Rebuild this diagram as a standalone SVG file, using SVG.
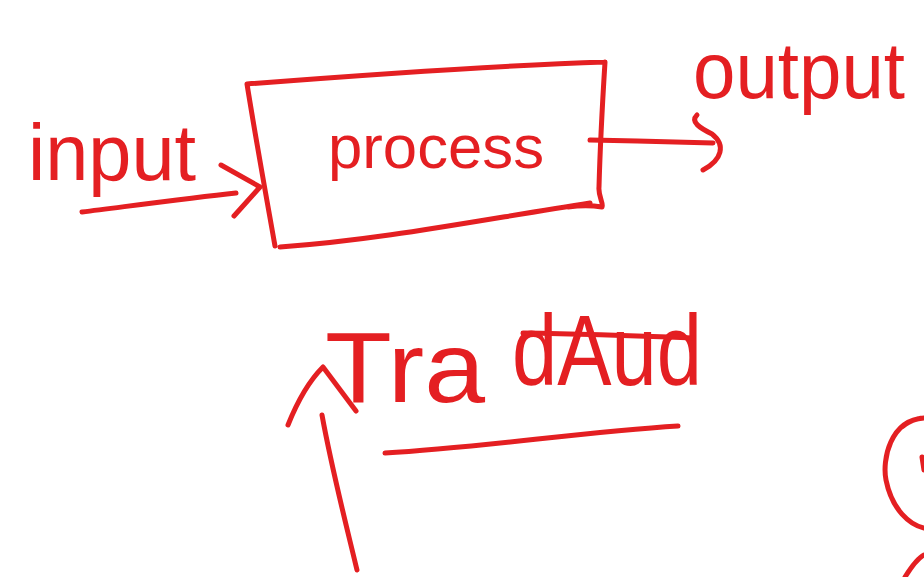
<svg xmlns="http://www.w3.org/2000/svg" width="924" height="577" viewBox="0 0 924 577">
<style>
.s{fill:none;stroke:#e41f22;stroke-width:5;stroke-linecap:round;stroke-linejoin:round}
.t{fill:#e41f22;font-family:"Liberation Sans","DejaVu Sans",sans-serif}
</style>
<rect width="924" height="577" fill="#fff"/>
<g id="input">
<text class="t" x="28" y="180" font-size="80" textLength="168" lengthAdjust="spacingAndGlyphs">input</text>
</g>
<g id="process">
<path class="s" d="M247,84 C350,76 480,66 605,62 M605,62 C602,110 600,150 599,187 C598,196 604,204 602,207 C590,205 575,206 568,207 M590,203 C480,220 380,240 280,247 M247,84 C256,140 266,195 275,246"/>
<text class="t" x="328" y="168" font-size="62" textLength="216" lengthAdjust="spacingAndGlyphs">process</text>
</g>
<g id="output">
<text class="t" x="693" y="98" font-size="80" textLength="212" lengthAdjust="spacingAndGlyphs">output</text>
</g>
<g id="trad">
<text class="t" x="325" y="402" font-size="100"><tspan textLength="160" lengthAdjust="spacingAndGlyphs">Tra</tspan><tspan x="512" y="385" font-size="100" textLength="190" lengthAdjust="spacingAndGlyphs">dAud</tspan></text>
<path class="s" d="M523,333 C580,334 640,336 693,338"/>
<path class="s" d="M385,453 C480,448 580,432 678,426"/>
</g>
<g id="connectors">
<path class="s" d="M82,212 C130,206 190,198 236,193"/>
<path class="s" d="M221,165 L260,187 L234,216"/>
<path class="s" d="M590,140 C630,141 680,142 713,143"/>
<path class="s" d="M697,115 C690,122 700,128 712,134 C726,145 722,160 703,170"/>
<path class="s" d="M357,570 C345,520 332,470 322,415"/>
<path class="s" d="M288,425 C298,400 310,380 323,367 L356,411"/>
</g>
<g id="partial">
<path class="s" d="M902,427 C912,418 924,418 924,418 M924,418 C890,420 882,460 886,480 C892,510 910,525 924,528 M922,457 L924,470 M905,577 C912,566 918,558 924,555"/>
</g>
</svg>
